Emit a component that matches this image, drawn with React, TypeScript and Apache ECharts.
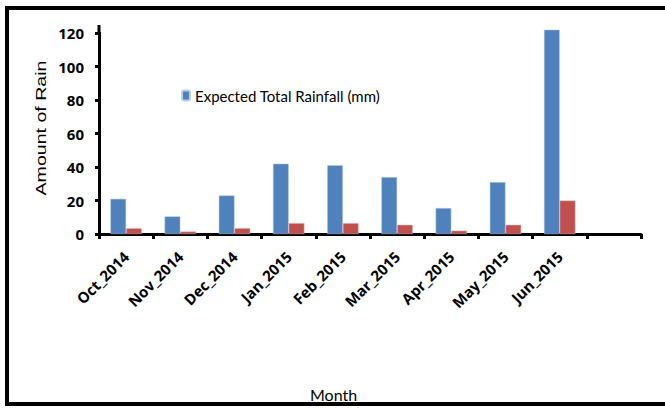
import React, { useEffect, useRef } from "react";
import * as echarts from "echarts";

const categories = ["Oct_2014", "Nov_2014", "Dec_2014", "Jan_2015", "Feb_2015", "Mar_2015", "Apr_2015", "May_2015", "Jun_2015", ""];
const expectedRain = [21, 10.5, 23, 42, 41, 34, 15.5, 31, 122, null];
const actualRain = [3.5, 1.5, 3.5, 6.5, 6.5, 5.5, 2, 5.5, 20, null];
const yTicks = { min: 0, max: 120, interval: 20 };

const labelFont = "'Open Sans', Lato, 'Noto Sans', sans-serif";
const legendFont = "Lato, 'Open Sans', 'Noto Sans', sans-serif";

export default function App() {
  const ref = useRef<HTMLDivElement>(null);
  useEffect(() => {
    document.body.style.margin = "0";
    const chart = echarts.init(ref.current!, null, { renderer: "svg" });
    chart.setOption({
      animation: false,
      backgroundColor: "#ffffff",
      grid: { left: 99, right: 24, top: 33, bottom: 174 },
      legend: {
        data: ["Expected Total Rainfall (mm)"],
        left: 181,
        top: 88,
        padding: 0,
        itemWidth: 8,
        itemHeight: 10,
        itemGap: 6,
        textStyle: { fontFamily: legendFont, fontSize: 15, color: "#000" },
      },
      graphic: [
        {
          type: "rect",
          shape: { x: 7, y: 8, width: 700, height: 396 },
          style: { fill: "none", stroke: "#000", lineWidth: 4 },
          silent: true,
        },
        {
          type: "line",
          shape: { x1: 99, y1: 25, x2: 99, y2: 34 },
          style: { stroke: "#000", lineWidth: 3 },
          silent: true,
        },
        {
          type: "text",
          x: 41,
          y: 128,
          rotation: Math.PI / 2,
          scaleX: 1.4,
          style: {
            text: "Amount of Rain",
            font: "14px 'Liberation Sans', Arial, sans-serif",
            fill: "#000",
            align: "center",
            verticalAlign: "middle",
          },
          silent: true,
        },
        {
          type: "text",
          left: 310,
          top: 386,
          style: { text: "Month", font: `16px ${legendFont}`, fill: "#000" },
        },
      ],
      xAxis: {
        type: "category",
        data: categories,
        axisLine: { lineStyle: { color: "#000", width: 3 } },
        axisTick: { show: true, length: 5, lineStyle: { color: "#000", width: 3 } },
        axisLabel: {
          rotate: 45,
          interval: 0,
          margin: 20,
          color: "#000",
          fontFamily: labelFont,
          fontWeight: "bold",
          fontSize: 15,
        },
      },
      yAxis: {
        type: "value",
        min: yTicks.min,
        max: yTicks.max,
        interval: yTicks.interval,
        axisLine: { show: true, lineStyle: { color: "#000", width: 3 } },
        axisTick: { show: true, length: 4, lineStyle: { color: "#000", width: 3 } },
        splitLine: { show: false },
        axisLabel: { color: "#000", fontFamily: labelFont, fontWeight: "bold", fontSize: 15, margin: 15 },
      },
      series: [
        {
          name: "Expected Total Rainfall (mm)",
          type: "bar",
          data: expectedRain,
          clip: false,
          barGap: "0%",
          barCategoryGap: "42%",
          itemStyle: { color: "#4F81BD", borderColor: "#B9CDE5", borderWidth: 0.5 },
        },
        {
          name: "Actual Total Rainfall (mm)",
          type: "bar",
          data: actualRain,
          clip: false,
          itemStyle: { color: "#C0504D", borderColor: "#E6B9B8", borderWidth: 0.5 },
        },
      ],
    });
    return () => chart.dispose();
  }, []);
  return <div ref={ref} style={{ width: 665, height: 408 }} />;
}
